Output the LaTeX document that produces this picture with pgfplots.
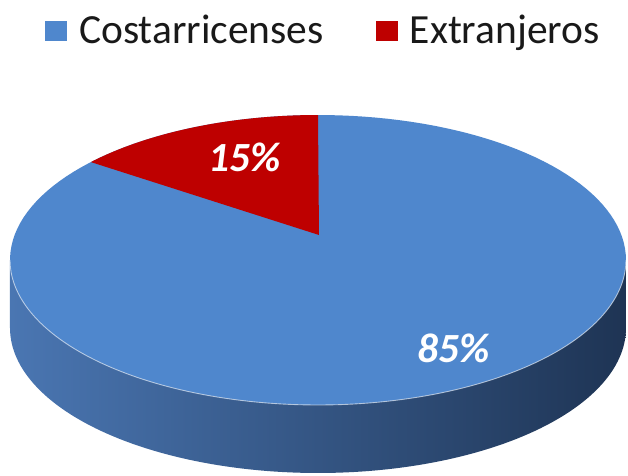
\documentclass[border=0pt]{standalone}
\usepackage{fontspec}
\setmainfont{Carlito}
\usepackage{pgfplots}
\pgfplotsset{compat=1.18}
\definecolor{facecol}{HTML}{4F87CD}
\definecolor{redcol}{HTML}{BE0000}
\definecolor{sideL}{HTML}{4A76B2}
\definecolor{sideM}{HTML}{2F568C}
\definecolor{sideR}{HTML}{1E3454}
% data (percent)
\def\valCR{85}
\def\valEX{15}
\begin{document}
\begin{tikzpicture}
\begin{axis}[
  width=6.28cm, height=4.75cm, scale only axis,
  xmin=0, xmax=628, ymin=0, ymax=475,
  hide axis, clip=false,
  legend columns=2,
  legend style={at={(axis cs:326,443)}, anchor=center, draw=none, fill=none,
    font=\fontsize{11.8}{13}\selectfont, text=black!90,
    /tikz/every odd column/.append style={column sep=0.05cm},
    /tikz/every even column/.append style={column sep=0.45cm}},
  legend image code/.code={\fill[#1] (0cm,-0.09cm) rectangle (0.22cm,0.11cm);},
]
% side of the pie
\addplot[forget plot, draw=none, left color=sideL, middle color=sideM, right color=sideR,
  domain=180:360, samples=120] ({318+308*cos(x)},{147+145*sin(x)})
  -- (axis cs:626,215) -- (axis cs:10,215) -- cycle;
% top face (Costarricenses)
\addplot[draw=none, fill=facecol, domain=0:360, samples=160]
  ({318+308*cos(x)},{215+145*sin(x)});
\addlegendentry{Costarricenses}
% wedge (Extranjeros)
\pgfmathsetmacro{\wedgeEnd}{90+\valEX*3.6*0.88}
\addplot[draw=none, fill=redcol, domain=90:\wedgeEnd, samples=60]
  ({318+308*cos(x)},{215+145*sin(x)}) -- (axis cs:319,240) -- cycle;
\addlegendentry{Extranjeros}
% edge highlight
\addplot[forget plot, white, opacity=0.6, line width=0.25pt, domain=180:360, samples=120]
  ({318+308*cos(x)},{215+145*sin(x)});
% labels
\node[text=white, font=\fontsize{11.8}{13}\selectfont\bfseries\itshape] at (axis cs:245,318) {\valEX\%};
\node[text=white, font=\fontsize{11.8}{13}\selectfont\bfseries\itshape] at (axis cs:454,127) {\valCR\%};
\end{axis}
\pgfresetboundingbox
\path (current axis.south west) rectangle (current axis.north east);
\end{tikzpicture}
\end{document}
